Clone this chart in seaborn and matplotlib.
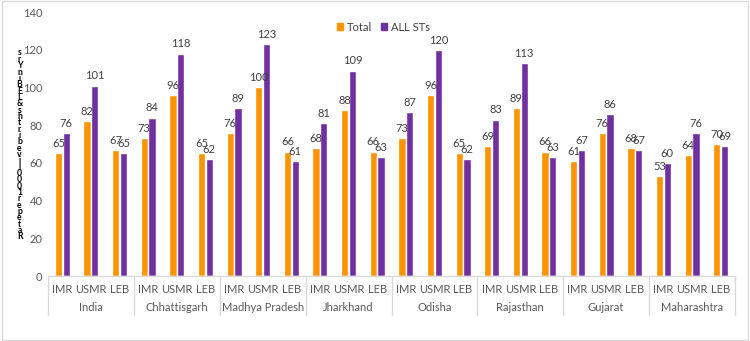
import matplotlib
matplotlib.use("Agg")
import matplotlib.pyplot as plt
import matplotlib.transforms as mtransforms
from matplotlib.patches import Rectangle
import seaborn as sns
import pandas as pd

# Indicators per state and the two population series
states = ["India", "Chhattisgarh", "Madhya Pradesh", "Jharkhand",
          "Odisha", "Rajasthan", "Gujarat", "Maharashtra"]
indicators = ["IMR", "USMR", "LEB"]
series = ["Total", "ALL STs"]

total = [65, 82, 67,
         73, 96, 65,
         76, 100, 66,
         68, 88, 66,
         73, 96, 65,
         69, 89, 66,
         61, 76, 68,
         53, 64, 70]
all_sts = [76, 101, 65,
           84, 118, 62,
           89, 123, 61,
           81, 109, 63,
           87, 120, 62,
           83, 113, 63,
           67, 86, 67,
           60, 76, 69]

y_label = "Rate per 1000 live births & LEB in Yrs"

colors = ["#FF9400", "#7030A0"]

rows = []
keys = []
for i, st in enumerate(states):
    for j, ind in enumerate(indicators):
        key = f"{st}|{ind}"
        keys.append(key)
        k = i * len(indicators) + j
        rows.append({"key": key, "series": series[0], "value": total[k]})
        rows.append({"key": key, "series": series[1], "value": all_sts[k]})
df = pd.DataFrame(rows)

sns.set_style("white")
plt.rcParams["font.family"] = ["Lato", "DejaVu Sans"]

fig = plt.figure(figsize=(7.5, 3.41), dpi=100)
ax = fig.add_axes([0.064, 0.1906, 0.916, 0.774])

sns.barplot(data=df, x="key", y="value", hue="series", order=keys,
            hue_order=series, palette=colors, width=0.54, gap=0.06,
            saturation=1, ax=ax, legend=False, errorbar=None)

for cont in ax.containers:
    ax.bar_label(cont, padding=3, fontsize=8, color="#404040")

ax.set_ylim(0, 140)
ax.set_yticks(range(0, 141, 20))
ax.set_xlim(-0.5, len(keys) - 0.5)
ax.set_xticks(range(len(keys)))
ax.set_xticklabels([k.split("|")[1] for k in keys])
ax.tick_params(axis="x", length=0, pad=6, labelsize=8, labelcolor="#595959")
ax.tick_params(axis="y", length=0, pad=4, labelsize=8, labelcolor="#595959")
ax.set_xlabel("")
ax.set_ylabel("")

for side in ["top", "right", "left"]:
    ax.spines[side].set_visible(False)
ax.spines["bottom"].set_color("#D9D9D9")
ax.spines["bottom"].set_linewidth(1)

# Second-level category labels and group separators
trans = mtransforms.blended_transform_factory(ax.transData, ax.transAxes)
n_ind = len(indicators)
for i, st in enumerate(states):
    center = i * n_ind + (n_ind - 1) / 2
    ax.text(center, -0.12, st, transform=trans, ha="center", va="center",
            fontsize=8, color="#595959")
for b in range(len(states) + 1):
    xb = b * n_ind - 0.5
    ax.plot([xb, xb], [0, -0.148], transform=trans, color="#D9D9D9",
            lw=1, clip_on=False)

# Legend
handles = [Rectangle((0, 0), 1, 1, color=c) for c in colors]
fig.legend(handles, series, loc="center", bbox_to_anchor=(0.511, 0.92),
           ncol=2, frameon=False, fontsize=8, handlelength=0.6,
           handleheight=0.6, handletextpad=0.3, columnspacing=0.8,
           labelcolor="#404040")

# Stacked vertical axis title
chars = [c for c in y_label if c != " "]
fig.text(0.026, 0.575, "\n".join(reversed(chars)), ha="center", va="center",
         fontsize=6.2, linespacing=0.62, color="black", fontweight="bold")

# Chart border
fig.patches.append(Rectangle((0.002, 0.003), 0.995, 0.993,
                             transform=fig.transFigure, fill=False,
                             edgecolor="#D9D9D9", lw=1))

fig.savefig("out.png", dpi=100)
